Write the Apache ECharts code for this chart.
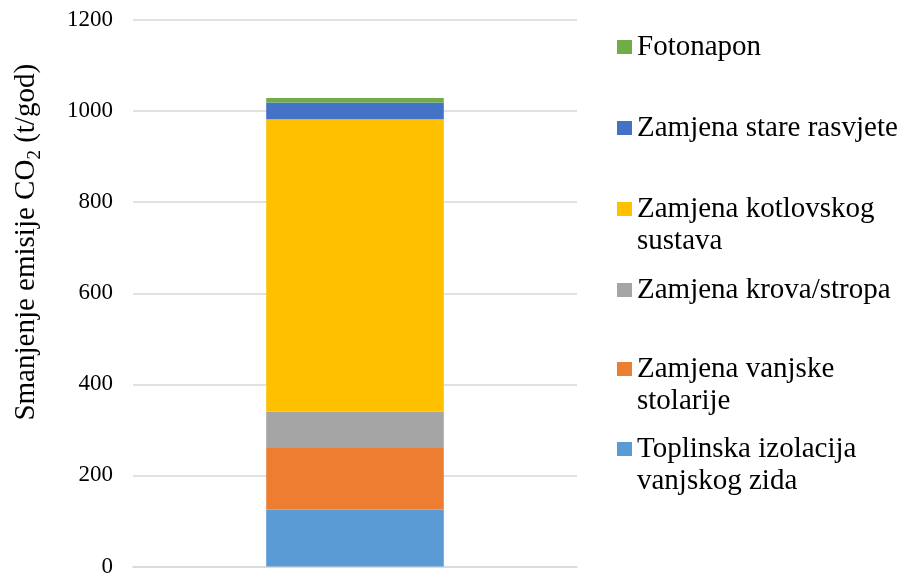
<!DOCTYPE html>
<html>
<head>
<meta charset="utf-8">
<script src="https://cdn.jsdelivr.net/npm/echarts@6/dist/echarts.min.js"></script>
<style>
  html, body { margin: 0; padding: 0; background: #fff; }
  #chart { width: 904px; height: 578px; }
</style>
</head>
<body>
<div id="chart"></div>
<script>
// stacked bottom -> top
const categories = ['']
const seriesNames = [
  'Toplinska izolacija vanjskog zida',
  'Zamjena vanjske stolarije',
  'Zamjena krova/stropa',
  'Zamjena kotlovskog sustava',
  'Zamjena stare rasvjete',
  'Fotonapon'
]
const seriesValues = [125, 135, 80, 642, 37, 10]
const seriesColors = ['#5B9BD5', '#ED7D31', '#A5A5A5', '#FFC000', '#4472C4', '#70AD47']
const yTicks = [0, 200, 400, 600, 800, 1000, 1200]

// legend text wrapping as in the reference
const legendLines = {
  'Toplinska izolacija vanjskog zida': ['Toplinska izolacija', 'vanjskog zida'],
  'Zamjena vanjske stolarije': ['Zamjena vanjske', 'stolarije'],
  'Zamjena krova/stropa': ['Zamjena krova/stropa'],
  'Zamjena kotlovskog sustava': ['Zamjena kotlovskog', 'sustava'],
  'Zamjena stare rasvjete': ['Zamjena stare rasvjete'],
  'Fotonapon': ['Fotonapon']
}
// centre y of each legend marker
const legendY = {
  'Fotonapon': 47,
  'Zamjena stare rasvjete': 128,
  'Zamjena kotlovskog sustava': 209,
  'Zamjena krova/stropa': 290,
  'Zamjena vanjske stolarije': 369,
  'Toplinska izolacija vanjskog zida': 449
}

const font = 'Liberation Serif'
const lh = 32

const chart = echarts.init(document.getElementById('chart'))

// one legend per item so each can sit where it does in the reference;
// wrapped items get an empty first line so the marker lines up with line 1
const legends = seriesNames.map(name => {
  const lines = legendLines[name]
  const multi = lines.length > 1
  return {
    data: [name],
    left: 617,
    top: legendY[name] - (multi ? 1.5 * lh : 0.5 * lh),
    padding: 0,
    itemWidth: 15,
    itemHeight: 14,
    icon: 'rect',
    selectedMode: false,
    formatter: () => (multi ? '\n' : '') + lines.join('\n'),
    textStyle: {
      fontFamily: font,
      fontSize: 29,
      color: '#000',
      lineHeight: lh
    }
  }
})

const option = {
  animation: false,
  grid: { left: 133, right: 327, top: 20, bottom: 10 },
  legend: legends,
  xAxis: {
    type: 'category',
    data: categories,
    axisLine: { lineStyle: { color: '#d9d9d9', width: 1.5 } },
    axisTick: { show: false },
    axisLabel: { show: false }
  },
  yAxis: {
    type: 'value',
    min: yTicks[0],
    max: yTicks[yTicks.length - 1],
    interval: 200,
    axisLine: { show: false },
    axisTick: { show: false },
    splitLine: { lineStyle: { color: '#d9d9d9', width: 1.5 } },
    axisLabel: {
      fontFamily: font,
      fontSize: 23,
      color: '#000',
      margin: 20,
      formatter: v => String(v)
    },
    name: '{a|Smanjenje emisije CO}{s|2}{a| (t/god)}',
    nameLocation: 'middle',
    nameGap: 92,
    nameRotate: 90,
    nameTextStyle: {
      padding: [0, 0, 0, 102],
      rich: {
        a: { fontFamily: font, fontSize: 29, color: '#000', lineHeight: 34, verticalAlign: 'bottom' },
        s: { fontFamily: font, fontSize: 19, color: '#000', lineHeight: 34, verticalAlign: 'bottom', padding: [0, 0, -4, 0] }
      }
    }
  },
  series: seriesNames.map((name, i) => ({
    name,
    type: 'bar',
    stack: 'total',
    barWidth: '40%',
    data: [seriesValues[i]],
    itemStyle: { color: seriesColors[i] }
  }))
}

chart.setOption(option)
window.addEventListener('resize', () => chart.resize())
</script>
</body>
</html>
